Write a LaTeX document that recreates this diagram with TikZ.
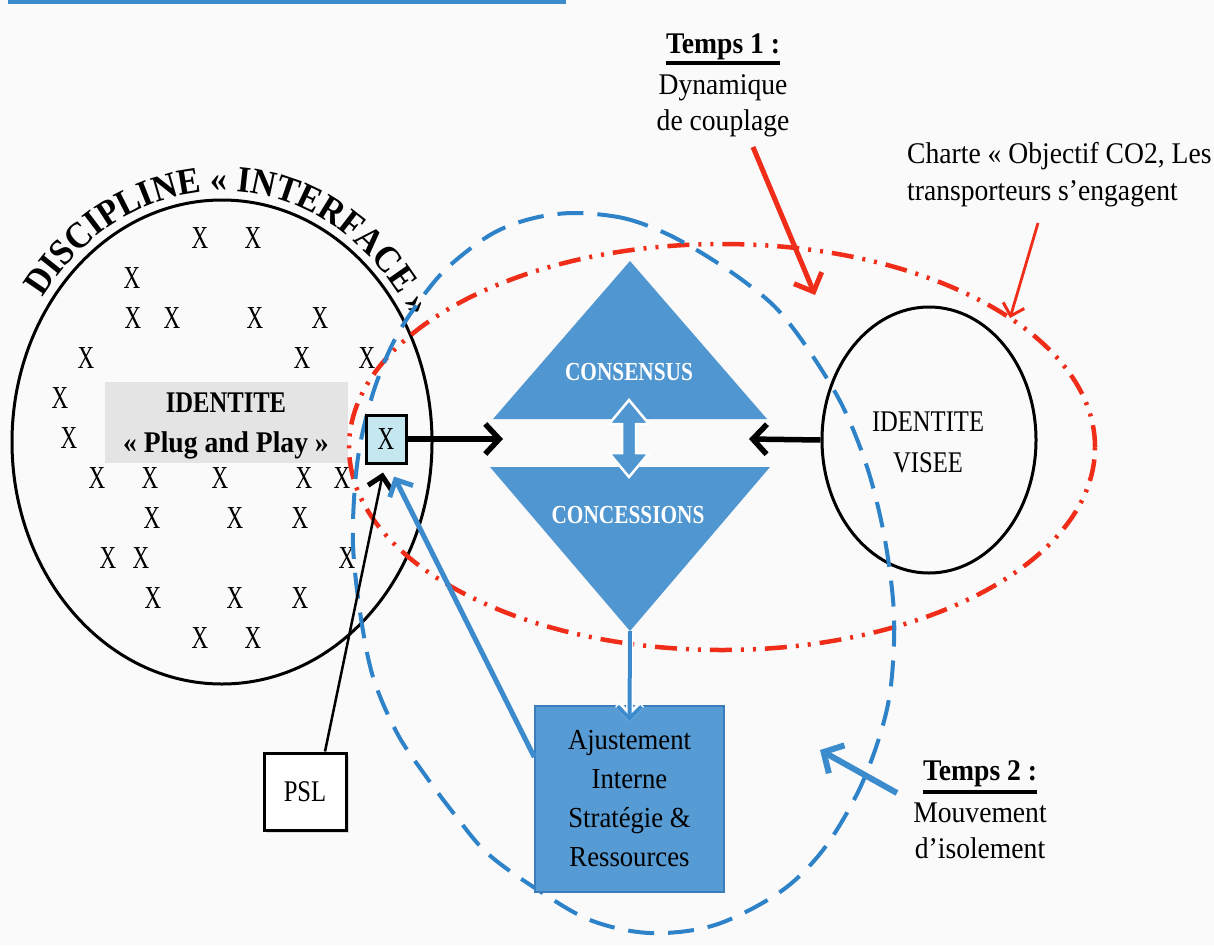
\documentclass[tikz,border=0pt]{standalone}
\usepackage{fontspec}
\setmainfont{Liberation Serif}[FakeStretch=0.92]
\newfontfamily\capfam{Liberation Serif}[FakeStretch=0.82]
\newfontfamily\xmarkfont{Liberation Serif}[FakeStretch=0.72]
\usetikzlibrary{shapes.geometric, arrows.meta, decorations.text, shadows}
\definecolor{triblue}{RGB}{80,150,208}
\definecolor{boxblue}{RGB}{86,155,212}
\definecolor{boxedge}{RGB}{60,125,190}
\definecolor{dashblue}{RGB}{45,130,200}
\definecolor{arrblue}{RGB}{60,140,205}
\definecolor{dred}{RGB}{240,45,25}
\definecolor{xcyan}{RGB}{197,232,240}
\definecolor{idgray}{RGB}{228,228,228}
\definecolor{bgcol}{RGB}{250,250,250}
\tikzset{
  txt/.style={inner sep=0, font=\fontsize{30}{36}\selectfont},
  txtb/.style={inner sep=0, font=\fontsize{30}{36}\selectfont\bfseries},
  capt/.style={inner sep=0, font=\capfam\fontsize{30}{36}\selectfont},
  captb/.style={inner sep=0, font=\capfam\fontsize{30}{36}\selectfont\bfseries},
  xmark/.style={inner sep=0, font=\xmarkfont\fontsize{32}{32}\selectfont},
  blackarrow/.style={line width=5.5pt, -{Straight Barb[length=14pt,width=30pt]}},
  bluedash/.style={dashblue, line width=4pt, dash pattern=on 26pt off 14pt},
  reddash/.style={dred, line width=4.5pt, dash pattern=on 22pt off 9pt on 3pt off 9pt on 3pt off 9pt},
}
\begin{document}
\begin{tikzpicture}[x=1pt,y=1pt]
\fill[bgcol] (0,0) rectangle (1214,-945);
\useasboundingbox (0,0) rectangle (1214,-945);

% cut-off caption underline
\coordinate (capL) at (8,-1.5);
\coordinate (capR) at (566,-1.5);
\draw[arrblue, line width=4pt] (capL) -- (capR);

% left discipline ellipse
\node[draw, ellipse, line width=3pt, minimum width=420pt, minimum height=484pt, inner sep=0] (disc) at (222,-442) {};
\path[decorate, decoration={text along path, text align=center,
   text={|\fontsize{37}{37}\selectfont\bfseries|DISCIPLINE « INTERFACE »}}]
  (222,-442) ++(160:219 and 251) arc[start angle=160, end angle=15, x radius=219, y radius=251];

% identite box
\node[fill=idgray, minimum width=243pt, minimum height=81pt, inner sep=0] (idbox) at (226.5,-422) {};
\node[captb, anchor=base] (idt1) at (226,-412) {IDENTITE};
\node[txtb, anchor=base] (idt2) at (226,-452) {« Plug and Play »};

% X marks
\foreach \px/\py [count=\i] in {200/238,253/238,132/278,133/318,172/318,255/318,320/318,
  86/358,302/358,367/358,60/398,69/438,97/478,150/478,220/478,304/478,342/478,
  152/518,235/518,300/518,108/558,141/558,347/558,153/598,235/598,300/598,200/638,253/638}
  {\node[xmark] (xm\i) at (\px,-\py) {X};}

% identite visee
\node[draw, ellipse, line width=3pt, minimum width=214pt, minimum height=266pt, inner sep=0] (visee) at (929,-440) {};
\node[capt, anchor=base] (vis1) at (928,-431) {IDENTITE};
\node[capt, anchor=base] (vis2) at (928,-472) {VISEE};

% triangles
\coordinate (uA) at (630,-261); \coordinate (uL) at (493,-419); \coordinate (uR) at (767,-419);
\fill[triblue] (uA) -- (uR) -- (uL) -- cycle;
\coordinate (lL) at (490,-467); \coordinate (lR) at (770,-467); \coordinate (lA) at (630,-631);
\fill[triblue] (lL) -- (lR) -- (lA) -- cycle;
\node[anchor=base, inner sep=0, text=white, font=\capfam\fontsize{26}{26}\selectfont\bfseries] (cons) at (629,-380) {CONSENSUS};
\node[anchor=base, inner sep=0, text=white, font=\capfam\fontsize{26}{26}\selectfont\bfseries] (conc) at (628,-523) {CONCESSIONS};
% double arrow
\filldraw[fill=triblue, draw=white, line width=2.5pt, line join=miter]
  (629,-400) -- (649,-424) -- (636,-424) -- (636,-453) -- (649,-453) -- (629,-477)
  -- (609,-453) -- (622,-453) -- (622,-424) -- (609,-424) -- cycle;

% red dash-dot ellipse
\draw[reddash] (722,-447) ellipse[x radius=373, y radius=203];

% blue dashed closed curve
\draw[bluedash] plot[smooth cycle, tension=0.55] coordinates {
 (573,-213) (623,-218) (665,-233) (705,-255) (745,-282) (778,-310) (810,-352) (843,-407)
 (868,-470) (885,-540) (894,-615) (891,-685) (880,-735) (858,-792) (823,-850) (780,-892)
 (715,-925) (650,-933) (590,-920) (535,-888) (487,-853) (455,-815) (425,-775) (397,-733)
 (373,-677) (360,-612) (353,-545) (355,-485) (361,-440) (374,-390) (392,-345) (413,-310)
 (445,-270) (490,-235) (530,-219)};

% boxes
\node[draw, line width=3pt, fill=xcyan, minimum width=40pt, minimum height=48pt, inner sep=0, xmark] (xbox) at (386,-439) {X};
\node[fill=boxblue, draw=boxedge, line width=1.5pt, minimum width=189pt, minimum height=186pt, inner sep=0,
      align=center, font=\fontsize{29}{39}\selectfont] (ajust) at (629.5,-799) {Ajustement\\Interne\\Stratégie \&\\Ressources};
\node[draw, line width=3pt, fill=white, minimum width=82pt, minimum height=77pt, inner sep=0,
      font=\capfam\fontsize{30}{36}\selectfont,
      drop shadow={opacity=0.25, shadow xshift=3pt, shadow yshift=-3pt}] (psl) at (305,-791.5) {PSL};

% black arrows
\coordinate (gapL) at (503,-439);
\coordinate (gapR) at (749,-439);
\draw[blackarrow] (xbox.east) -- (gapL);
\draw[blackarrow] (visee.west) -- (gapR);
\draw[line width=2.5pt, -{Straight Barb[length=12pt,width=24pt,line width=5pt]}] ([xshift=20pt]psl.north) -- ([xshift=-3pt,yshift=-8pt]xbox.south);

% blue arrows
\draw[white, line width=7pt, -{Straight Barb[length=12pt,width=24pt]}] (lA) -- ([yshift=-16pt]ajust.north);
\draw[arrblue, line width=4pt, -{Straight Barb[length=12pt,width=24pt]}] (lA) -- ([yshift=-16pt]ajust.north);
\draw[arrblue, line width=5pt, -{Straight Barb[length=13pt,width=26pt]}] ([yshift=42pt]ajust.west) -- ([xshift=8pt,yshift=-12pt]xbox.south);
\coordinate (t2s) at (897,-793);
\coordinate (t2e) at (820,-750);
\draw[arrblue, line width=6pt, -{Straight Barb[length=15pt,width=32pt]}] (t2s) -- (t2e);

% red arrows
\coordinate (r1s) at (753,-147);
\coordinate (r1e) at (815,-295);
\draw[dred, line width=5pt, -{Straight Barb[length=15pt,width=30pt]}] (r1s) -- (r1e);
\coordinate (r2s) at (1038,-223);
\coordinate (r2e) at (1010,-318);
\draw[dred, line width=2.8pt, -{Straight Barb[length=11pt,width=22pt,line width=3pt]}] (r2s) -- (r2e);

% Temps 1
\node[txtb, anchor=base] (t1) at (723,-53) {Temps 1 :};
\draw[line width=3.5pt] ([yshift=-10pt]t1.base west) -- ([yshift=-10pt]t1.base east);
\node[txt, anchor=base] (t1a) at (723,-94) {Dynamique};
\node[txt, anchor=base] (t1b) at (723,-130) {de couplage};

% Charte
\node[txt, anchor=base west] (ch1) at (907,-163) {Charte « Objectif CO2, Les};
\node[txt, anchor=base west] (ch2) at (907,-200) {transporteurs s’engagent};

% Temps 2
\node[txtb, anchor=base] (t2) at (980,-780) {Temps 2 :};
\draw[line width=3.5pt] ([yshift=-12pt]t2.base west) -- ([yshift=-12pt]t2.base east);
\node[txt, anchor=base] (t2a) at (980,-822) {Mouvement};
\node[txt, anchor=base] (t2b) at (980,-858) {d’isolement};
\end{tikzpicture}
\end{document}
